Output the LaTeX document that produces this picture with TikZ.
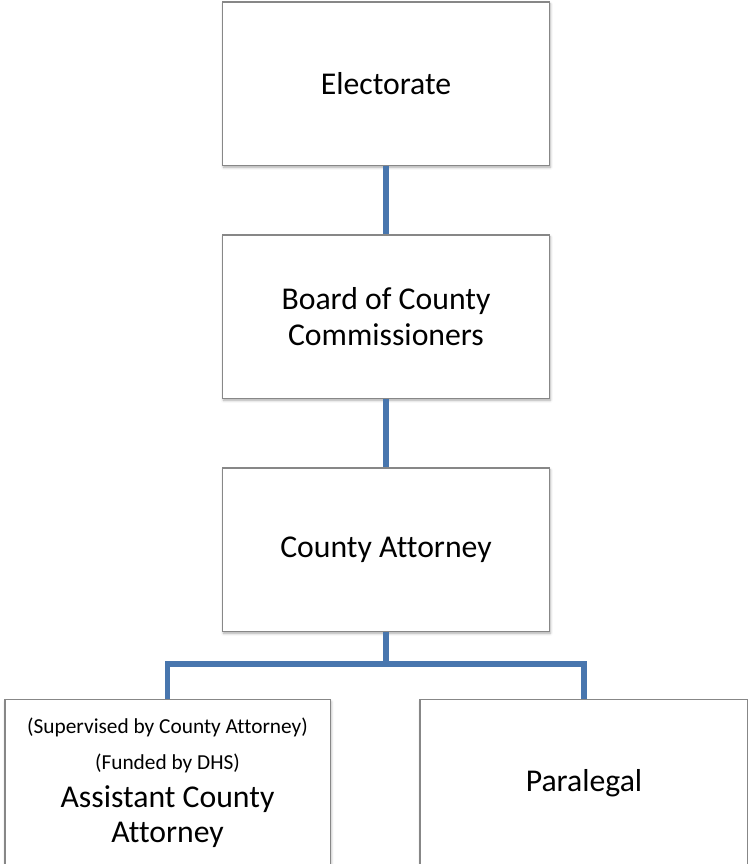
\documentclass[tikz,border=0pt]{standalone}
\usepackage{fontspec}
\setmainfont[Ligatures=NoCommon]{Carlito}
\usepackage{tikz}
\usepackage{xcolor}
\usetikzlibrary{shadows, shadows.blur, positioning}
\definecolor{linkblue}{RGB}{72,118,174}
\definecolor{boxgray}{RGB}{135,135,135}
\newcommand{\bigtxt}{\fontsize{23.8}{26.5}\selectfont}
\newcommand{\smalltxt}{\fontsize{16}{23}\selectfont}

\begin{document}
\begin{tikzpicture}[x=0.75pt, y=-0.75pt,
    orgbox/.style={draw=boxgray, line width=1pt, fill=white, minimum width=245pt, minimum height=122.5pt, align=center, font=\bigtxt,
        blur shadow={shadow xshift=0.6pt, shadow yshift=-1.6pt, shadow blur radius=2pt, shadow opacity=35}},
    link/.style={draw=linkblue, line width=4pt}]
                        \useasboundingbox (0, 0) rectangle (748, 864);

                        \node[orgbox] (elect) at (386, 83.5) {Electorate};
                        \node[orgbox] (board) at (386, 316.5) {Board of County\\Commissioners};
                        \node[orgbox] (catty) at (386, 549.5) {County Attorney};
                        \node[orgbox, minimum height=125pt, minimum width=244pt] (asst) at (167.5, 783) {{\smalltxt (Supervised by County Attorney)}\\{\smalltxt (Funded by DHS)}\\[2pt]Assistant County\\Attorney};
                        \node[orgbox, minimum height=125pt, minimum width=246pt] (para) at (584, 783) {Paralegal};

                        \coordinate (split) at (386, 664);

                        \draw[link]
                        (elect.south) edge (board.north)
                        (board.south) edge (catty.north)
                        (catty.south) -- (split);

                        \draw[link] (split) -| (asst.north);
                        \draw[link] (split) -| (para.north);
                    \end{tikzpicture}
\end{document}
